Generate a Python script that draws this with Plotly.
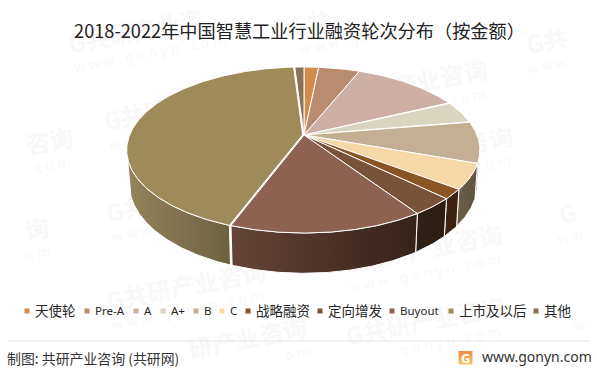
import math
import plotly.graph_objects as go

# ---- data ----
categories = ["天使轮", "Pre-A", "A", "A+", "B", "C", "战略融资", "定向增发", "Buyout", "上市及以后", "其他"]
values = [1.6, 4.5, 11.8, 4.35, 8.15, 4.9, 1.9, 3.4, 15.1, 43.3, 1.0]
title_text = "2018-2022年中国智慧工业行业融资轮次分布（按金额）"
source_text = "制图: 共研产业咨询 (共研网)"
site_text = "www.gonyn.com"
mark_text = "G共研产业咨询"

# ---- styles ----
top_colors = ["#D08B4D", "#B98B6F", "#CDAFA5", "#D9D5C1", "#C3AF91", "#F5D8A5",
              "#8A5423", "#7A5238", "#8E6150", "#9F8A5A", "#8A7350"]
side_left = ["#6A4A30", "#5E4536", "#675850", "#6C6A60", "#6A5F4E", "#6B5F48",
             "#3E2410", "#302118", "#654438", "#94845B", "#6E5F40"]
side_right = ["#6A4A30", "#5E4536", "#675850", "#6C6A60", "#6A5F4E", "#5E5340",
              "#3A210E", "#2B1D14", "#352219", "#6C6140", "#6E5F40"]
explode = [0, 0, 0, 0, 0, 0, 0, 0, 0, 0.008, 0]
legend_marker_x = [27, 87, 136, 163, 196, 222, 248, 320, 392, 451, 536]
legend_y = 311

# ---- pie projection (perspective disc) ----
CX, Y0, R, K, B, DEPTH, SHRINK = 304, 135, 173, 0.1807, 80.3, 33, 0.015
SIL_L, SIL_R = 100.4, 259.6


def project(angle, r=1.0, h=0.0, du=0.0, dv=0.0):
    a = math.radians(angle)
    u = r * math.sin(a) + du
    v = r * math.cos(a) + dv
    w = 1 + K * v
    return CX + R * u / w * (1 - SHRINK * h), Y0 - B * v / w + h * DEPTH / w


def arc(a0, a1, step=0.5):
    n = max(2, int(abs(a1 - a0) / step) + 1)
    return [a0 + (a1 - a0) * i / (n - 1) for i in range(n)]


fig = go.Figure()
total = sum(values)
bounds = [0]
for val in values:
    bounds.append(bounds[-1] + val / total * 360)

# side walls first
for i in range(len(values)):
    a0, a1 = max(bounds[i], SIL_L), min(bounds[i + 1], SIL_R)
    if a1 <= a0:
        continue
    mid = math.radians((bounds[i] + bounds[i + 1]) / 2)
    du, dv = explode[i] * math.sin(mid), explode[i] * math.cos(mid)
    angs = arc(a0, a1)
    upper = [project(a, h=0, du=du, dv=dv) for a in angs]
    lower = [project(a, h=1, du=du, dv=dv) for a in reversed(angs)]
    pts = upper + lower + upper[:1]
    fig.add_trace(go.Scatter(
        x=[p[0] for p in pts], y=[p[1] for p in pts], mode="lines", fill="toself",
        line=dict(color="white", width=1), hoverinfo="skip", showlegend=False,
        fillgradient=dict(type="horizontal",
                          colorscale=[[0, side_left[i]], [1, side_right[i]]]),
    ))

# top slices
for i in range(len(values)):
    mid = math.radians((bounds[i] + bounds[i + 1]) / 2)
    du, dv = explode[i] * math.sin(mid), explode[i] * math.cos(mid)
    pts = [project(0, r=0, du=du, dv=dv)]
    pts += [project(a, du=du, dv=dv) for a in arc(bounds[i], bounds[i + 1])]
    pts.append(pts[0])
    fig.add_trace(go.Scatter(
        x=[p[0] for p in pts], y=[p[1] for p in pts], mode="lines", fill="toself",
        fillcolor=top_colors[i], line=dict(color="white", width=1),
        hoverinfo="skip", showlegend=False,
    ))

# legend keys
fig.add_trace(go.Scatter(
    x=legend_marker_x, y=[legend_y] * len(categories), mode="markers",
    marker=dict(symbol="square", size=5, color=top_colors, line=dict(width=0)),
    hoverinfo="skip", showlegend=False,
))

# logo tile
fig.add_trace(go.Scatter(
    x=[458.5, 472.5, 472.5, 458.5, 458.5], y=[351, 351, 364.5, 364.5, 351], mode="lines", fill="toself",
    line=dict(width=0), hoverinfo="skip", showlegend=False,
    fillgradient=dict(type="vertical", colorscale=[[0, "#F7C860"], [1, "#F0894A"]]),
))

annotations = []
for xm, name in zip(legend_marker_x, categories):
    latin = name.isascii()
    annotations.append(dict(x=xm + 6, y=legend_y - 1, text=name, showarrow=False, xanchor="left",
                            yanchor="middle",
                            font=dict(family="Noto Sans" if latin else "Noto Sans CJK SC",
                                      size=11.5 if latin else 13.5, color="#262626")))
annotations.append(dict(x=5, y=358, text=source_text, showarrow=False, xanchor="left", yanchor="middle",
                        font=dict(family="Noto Sans CJK SC", size=13.9, color="#333333")))
annotations.append(dict(x=480, y=356.5, text=site_text, showarrow=False, xanchor="left", yanchor="middle",
                        font=dict(family="Noto Sans", size=14, color="#333333")))
annotations.append(dict(x=465.5, y=357.5, text="<b>G</b>", showarrow=False, xanchor="center", yanchor="middle",
                        font=dict(family="Noto Sans", size=13, color="white")))

# watermark tiles, placed by the left end of each stamp; only glyphs that stay clear of the page edge are kept
mark_starts = [(65, 48), (289, 30), (525, 48), (325, 103), (-95, 172), (100, 125), (350, 170),
               (103, 217), (558, 218), (340, 268), (-120, 262), (103, 305), (342, 340),
               (574, 305), (140, 362)]
ANGLE = math.radians(11)
shapes = []


def visible_run(sx, sy, n, step):
    keep = []
    for j in range(n):
        x = sx + j * step * math.cos(ANGLE)
        y = sy - j * step * math.sin(ANGLE)
        if 20 <= x <= 580 and 22 <= y <= 355:
            keep.append(j)
    return keep


def add_mark(sx, sy, tokens, step, size, family, bold, sep):
    keep = visible_run(sx, sy, len(tokens), step)
    if not keep:
        return
    mid = (keep[0] + keep[-1]) / 2
    cx = sx + mid * step * math.cos(ANGLE)
    cy = sy - mid * step * math.sin(ANGLE)
    text = sep.join(tokens[j] for j in keep)
    if bold:
        text = f"<b>{text}</b>"
    half = (len(keep) + 1) * step / 2
    shapes.append(dict(type="rect", layer="below", x0=cx - half, x1=cx + half, y0=cy - 14, y1=cy + 14,
                       line=dict(width=0), fillcolor="rgba(0,0,0,0)",
                       label=dict(text=text, textangle=-11, textposition="middle center",
                                  font=dict(family=family, size=size, color="#F8F8F8"))))


for sx, sy in mark_starts:
    add_mark(sx + 10, sy - 2, list(mark_text), 25, 24, "Noto Sans CJK SC", True, "")
    add_mark(sx + 6, sy + 21, list("www.gonyn.com"), 13.4, 14, "Noto Sans", False, " ")

# footer rule
shapes.append(dict(type="line", x0=7, x1=590, y0=341, y1=341, line=dict(color="#E6E6E6", width=1)))

fig.update_layout(
    width=597, height=373,
    margin=dict(l=0, r=0, t=0, b=0),
    paper_bgcolor="white", plot_bgcolor="rgba(0,0,0,0)",
    xaxis=dict(range=[0, 597], visible=False, fixedrange=True),
    yaxis=dict(range=[373, 0], visible=False, fixedrange=True),
    title=dict(text=title_text, x=299.5 / 597, xanchor="center", y=1 - 32 / 373, yanchor="middle",
               font=dict(family="Noto Sans CJK SC", size=18.2, color="#222222")),
    annotations=annotations, shapes=shapes, showlegend=False,
)
fig.write_html("out.html", config=dict(displayModeBar=False),
               post_script="document.body.style.margin='0';document.body.style.overflow='hidden';")
